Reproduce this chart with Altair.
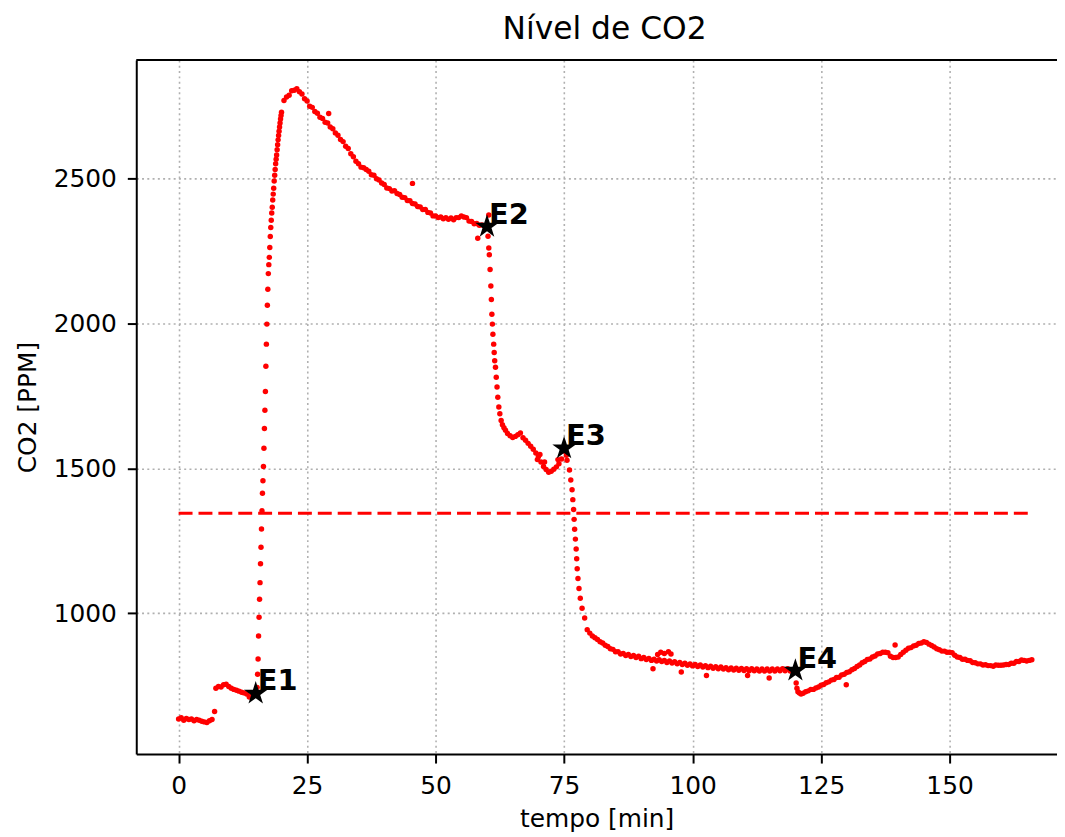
import altair as alt
import pandas as pd

# ---------------- data ----------------
# regularly sampled stretches: (start [min], step [min], CO2 values [ppm])
seg_a_start, seg_a_step = 0.0, 0.5
seg_a_co2 = [636, 640, 632, 638, 634, 636, 630, 634, 632, 628, 626, 624, 630, 634, 662]

seg_b_start, seg_b_step = 7.25, 0.5
seg_b_co2 = [742, 748, 746, 754, 756, 748, 742, 738, 735, 732, 728, 726, 722, 712, 718, 722]

seg_rise_start, seg_rise_step = 15.27, 0.095
seg_rise_co2 = [745, 790, 843, 922, 987, 1049, 1106, 1171, 1228, 1291, 1354, 1414, 1457,
                1506, 1569, 1637, 1700, 1765, 1852, 1928, 1997, 2062, 2117, 2171, 2202,
                2227, 2261, 2299, 2330, 2355, 2380, 2400, 2425, 2445, 2465, 2490, 2510,
                2530, 2550, 2565, 2580, 2598, 2615, 2632, 2647, 2662, 2676, 2690, 2704,
                2716, 2727]

seg_c_start, seg_c_step = 20.5, 0.5
seg_c_co2 = [2768, 2780, 2786, 2801, 2803, 2808, 2798, 2790, 2774, 2766,
             2748, 2744, 2730, 2724, 2710, 2706, 2693, 2690, 2676, 2670,
             2656, 2648, 2633, 2626, 2610, 2602, 2584, 2574, 2558, 2550,
             2538, 2536, 2530, 2524, 2512, 2510, 2498, 2494, 2483, 2478,
             2466, 2464, 2456, 2457, 2447, 2444, 2434, 2433, 2423, 2422,
             2413, 2411, 2402, 2401, 2392, 2392, 2382, 2380, 2370, 2370,
             2364, 2366, 2360, 2364, 2358, 2363, 2357, 2364, 2364, 2370,
             2366, 2364, 2352, 2351, 2343, 2344, 2338, 2339, 2335, 2333]

fall1_t = [60.2, 60.35, 60.45, 60.6, 60.75, 60.85, 60.95, 61.05, 61.15, 61.3, 61.4, 61.5,
           61.65, 61.8, 61.95, 62.1, 62.3, 62.5, 62.75, 63.0, 63.3, 63.6, 64.0]
fall1_co2 = [2300, 2259, 2236, 2185, 2128, 2082, 2031, 1997, 1962, 1928, 1899, 1871,
             1848, 1814, 1780, 1745, 1711, 1688, 1665, 1650, 1640, 1631, 1620]

seg_d_start, seg_d_step = 64.5, 0.5
seg_d_co2 = [1612, 1606, 1610, 1616, 1622, 1605, 1597, 1586, 1576, 1566, 1553,
             1540, 1522, 1506, 1496, 1486, 1490, 1497, 1505, 1516, 1532]

fall2_t = [75.15, 75.3, 75.45, 75.57, 76.05, 76.3, 76.55, 76.7, 76.85, 76.95, 77.05,
           77.2, 77.35, 77.45, 77.55, 77.7, 77.9, 78.15, 78.5, 79.0]
fall2_co2 = [1568, 1556, 1545, 1528, 1494, 1460, 1426, 1392, 1358, 1324, 1290,
             1256, 1222, 1188, 1154, 1120, 1086, 1052, 1018, 984]

seg_e_start, seg_e_step = 79.5, 0.5
seg_e_co2 = [944, 932, 922, 916, 910, 902, 898, 890, 886, 878, 876, 868, 868, 860, 862,
             855, 858, 851, 855, 848, 852, 844, 848, 841, 845, 838, 842, 836, 840, 834,
             838, 831, 836, 829, 833, 826, 831, 824, 828, 821, 826, 819, 824, 817, 822,
             815, 820, 813, 818, 811, 816, 809, 815, 808, 813, 806, 812, 805, 811, 804,
             810, 803, 809, 802, 809, 802, 808, 801, 808, 801, 808, 801, 808, 801, 808,
             802, 809, 802, 809, 801, 806]

drop4_t = [120.15, 120.3, 120.5, 120.8, 121.1]
drop4_co2 = [760, 742, 730, 726, 722]

seg_f_start, seg_f_step = 121.5, 0.5
seg_f_co2 = [725, 730, 733, 738, 738, 743, 746, 752, 755, 761, 764, 770, 772, 779, 780,
             788, 790, 796, 799, 806, 810, 817, 822, 830, 834, 841, 843, 850, 853, 860,
             862, 866, 866, 864, 852, 848, 848, 850, 858, 866, 873, 880, 882, 888, 890,
             896, 898, 902, 900, 894, 889, 884, 878, 875, 870, 870, 866, 866, 864, 856,
             850, 848, 842, 842, 838, 837, 831, 830, 826, 826, 822, 823, 820, 820, 818,
             822, 821, 821, 822, 824, 824, 828, 828, 834, 834, 839, 838, 836, 838, 840]

outlier_t = [29.2, 45.5, 58.2, 60.35, 69.8, 70.3, 71.2, 73.8, 93.2, 93.8, 94.5, 95.3, 95.8,
             92.3, 97.8, 102.7, 110.7, 114.9, 129.9, 139.4]
outlier_co2 = [2723, 2482, 2293, 2373, 1530, 1548, 1522, 1530, 858, 866, 862, 868, 860,
               809, 798, 786, 786, 777, 754, 891]

evento_nome = ["E1", "E2", "E3", "E4"]
evento_t = [15, 60, 75, 120]
evento_co2 = [724, 2333, 1569, 803]

linha_co2 = 1345

x_ticks = [0, 25, 50, 75, 100, 125, 150]
y_ticks = [1000, 1500, 2000, 2500]
x_dom = [-8.24, 170.9]
y_dom = [515, 2907]


# ---------------- assemble ----------------
def grid(start, step, values):
    return [round(start + i * step, 3) for i in range(len(values))]


tempo = (grid(seg_a_start, seg_a_step, seg_a_co2) + grid(seg_b_start, seg_b_step, seg_b_co2)
         + grid(seg_rise_start, seg_rise_step, seg_rise_co2) + grid(seg_c_start, seg_c_step, seg_c_co2)
         + fall1_t + grid(seg_d_start, seg_d_step, seg_d_co2) + fall2_t
         + grid(seg_e_start, seg_e_step, seg_e_co2) + drop4_t
         + grid(seg_f_start, seg_f_step, seg_f_co2) + outlier_t)
co2 = (seg_a_co2 + seg_b_co2 + seg_rise_co2 + seg_c_co2 + fall1_co2 + seg_d_co2 + fall2_co2
       + seg_e_co2 + drop4_co2 + seg_f_co2 + outlier_co2)

dados = pd.DataFrame({"tempo": tempo, "co2": co2})
eventos = pd.DataFrame({"nome": evento_nome, "tempo": evento_t, "co2": evento_co2})
linha = pd.DataFrame({"tempo": [min(tempo), max(tempo)], "co2": [linha_co2, linha_co2]})
topo = pd.DataFrame({"tempo": [x_dom[0]], "tempo2": [x_dom[1]], "co2": [y_dom[1]]})

W, H = 926, 698
FONT = "DejaVu Sans"
STAR = ("M0,-1L0.2245,-0.309L0.9511,-0.309L0.3633,0.118L0.5878,0.809L0,0.382"
        "L-0.5878,0.809L-0.3633,0.118L-0.9511,-0.309L-0.2245,-0.309Z")

x_scale = alt.Scale(domain=x_dom, nice=False, zero=False)
y_scale = alt.Scale(domain=y_dom, nice=False, zero=False)

common_axis = dict(
    grid=True, gridDash=[2, 3.3], gridColor="#b0b0b0", gridWidth=1.6,
    domain=True, domainColor="black", domainWidth=2,
    ticks=True, tickColor="black", tickWidth=2, tickSize=9,
    labelFont=FONT, labelFontSize=25, labelColor="black",
    titleFont=FONT, titleFontSize=25, titleFontWeight="normal", titleColor="black",
    format="d",
)
x_axis = alt.Axis(values=x_ticks, title="tempo [min]", labelPadding=11, titlePadding=8, **common_axis)
y_axis = alt.Axis(values=y_ticks, title="CO2 [PPM]", labelPadding=11, titlePadding=13, **common_axis)

x_enc = alt.X("tempo:Q", scale=x_scale, axis=x_axis)
y_enc = alt.Y("co2:Q", scale=y_scale, axis=y_axis)

pontos = alt.Chart(dados).mark_circle(size=30, color="#ff0000", opacity=1).encode(x=x_enc, y=y_enc)

tracejada = alt.Chart(linha).mark_line(color="#ff0000", strokeDash=[14, 6], strokeWidth=3).encode(
    x=x_enc, y=y_enc)

estrelas = alt.Chart(eventos).mark_point(shape=STAR, filled=True, color="black", size=620,
                                         opacity=1).encode(x=x_enc, y=y_enc)

rotulos = alt.Chart(eventos).mark_text(align="left", baseline="alphabetic", dx=2, dy=-3,
                                       fontSize=29, fontWeight="bold", font=FONT,
                                       color="black").encode(x=x_enc, y=y_enc, text="nome:N")

borda_topo = alt.Chart(topo).mark_rule(color="black", strokeWidth=2).encode(
    x=x_enc, x2="tempo2:Q", y=y_enc)

chart = alt.layer(pontos, tracejada, estrelas, rotulos, borda_topo).properties(
    width=W, height=H,
    title=alt.TitleParams("Nível de CO2", font=FONT, fontSize=31.5, fontWeight="normal",
                          color="black", anchor="middle", offset=14, dx=8),
    autosize=alt.AutoSizeParams(type="none"),
    padding={"left": 129, "top": 50, "right": 0, "bottom": 81},
).configure_view(stroke=None)

chart.save("out.html", embed_options={"renderer": "svg", "actions": False})
